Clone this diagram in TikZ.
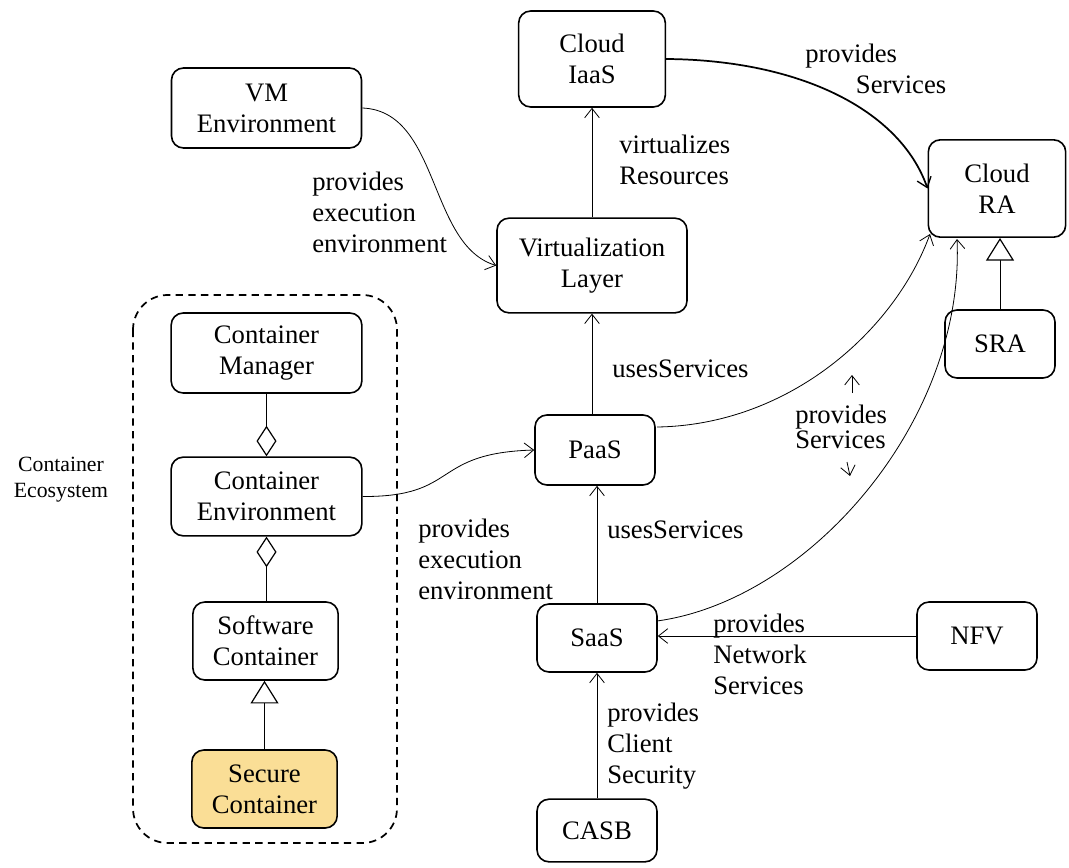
\documentclass[tikz,border=0pt]{standalone}
\usepackage{fontspec}
\setmainfont{Liberation Serif}
\usetikzlibrary{arrows.meta}
\definecolor{secfill}{RGB}{250,222,150}
\newcommand\diagfont{\fontsize{20pt}{23.25pt}\selectfont}
\begin{document}
\begin{tikzpicture}[x=0.75pt,y=-0.75pt,font=\diagfont,
  box/.style={draw,line width=1.2pt,rounded corners=9pt,align=center,inner sep=0pt},
  lbl/.style={anchor=north west,inner sep=0pt,align=left},
  conn/.style={line width=0.6pt},
  tip/.style={-{Straight Barb[length=7pt,width=11pt,line width=0.6pt]}},
  gen/.style={-{Triangle[open,length=17pt,width=21pt,line width=0.9pt,fill=white]}},
  agg/.style={-{Diamond[open,length=23pt,width=15pt,line width=0.9pt,fill=white]}},
  aggs/.style={{Diamond[open,length=23pt,width=15pt,line width=0.9pt,fill=white]}-},
  ecobox/.style={draw,dashed,line width=1.3pt,dash pattern=on 5.5pt off 4pt,rounded corners=26pt}
]
\path[use as bounding box] (0,0) rectangle (1069,867);

% container ecosystem frame
\draw[ecobox] (133,295) rectangle (397,843);
\node[anchor=north,inner sep=0pt,align=center,font=\fontsize{16.3pt}{19.5pt}\selectfont] (ceco) at (61,457) {Container\\Ecosystem};

% nodes
\node[box,minimum width=110pt,minimum height=72pt] (iaas) at (592,59) {Cloud\\IaaS};
\node[box,minimum width=142.5pt,minimum height=60pt] (vm) at (266.5,108) {VM\\Environment};
\node[box,minimum width=142.5pt,minimum height=71pt] (virt) at (592,265.5) {Virtualization\\Layer};
\node[box,minimum width=103pt,minimum height=73pt] (ra) at (997,188.5) {Cloud\\RA};
\node[box,minimum width=82.5pt,minimum height=51pt] (sra) at (1000,344) {SRA};
\node[box,minimum width=143pt,minimum height=60pt] (cm) at (266.5,353) {Container\\Manager};
\node[box,minimum width=143pt,minimum height=59pt] (env) at (266.5,496.5) {Container\\Environment};
\node[box,minimum width=109pt,minimum height=58.5pt] (sc) at (265.5,641) {Software\\Container};
\node[box,fill=secfill,minimum width=109pt,minimum height=58.5pt] (sec) at (264.5,789) {Secure\\Container};
\node[box,minimum width=90pt,minimum height=52.5pt] (paas) at (595,450) {PaaS};
\node[box,minimum width=90pt,minimum height=51pt] (saas) at (597,638) {SaaS};
\node[box,minimum width=90pt,minimum height=51pt] (nfv) at (977,636) {NFV};
\node[box,minimum width=90pt,minimum height=47pt] (casb) at (597,830.5) {CASB};

% labels
\node[lbl] (l1) at (805,44) {provides\\\hspace*{38pt}Services};
\node[lbl] (l2) at (619,135) {virtualizes\\Resources};
\node[lbl] (l3) at (312,172) {provides\\execution\\environment};
\node[lbl] (l4) at (612,360) {usesServices};
\node[lbl,font=\fontsize{20pt}{18.75pt}\selectfont] (l5) at (795,405) {provides\\Services};
\node[lbl] (l6) at (418,519) {provides\\execution\\environment};
\node[lbl] (l7) at (607,521) {usesServices};
\node[lbl] (l8) at (713,614) {provides\\Network\\Services};
\node[lbl] (l9) at (607,703) {provides\\Client\\Security};

% connectors
\draw[line width=1.3pt,-{Straight Barb[length=7pt,width=11pt,line width=1pt]}]
  (iaas.east) .. controls (800,60) and (900,110) .. (ra.west);
\draw[conn,tip] (vm.east) .. controls (440,111) and (428,245) .. (virt.west);
\draw[conn,tip] (virt.north) -- (virt.north |- iaas.south);
\draw[conn,tip] (virt.south |- paas.north) -- (virt.south);
\draw[conn,tip] (saas.north) -- (saas.north |- paas.south);
\draw[conn,tip] (casb.north) -- (saas.south);
\draw[conn,tip] (nfv.west) -- (nfv.west -| saas.east);
\draw[conn,tip] (env.east) .. controls (460,497) and (430,453) .. (paas.west);
\coordinate (paasout) at (657,427);
\coordinate (raA) at (930,234);
\draw[conn,tip] (paasout) .. controls (790,425) and (895,330) .. (raA);
\coordinate (saasout) at (657,621);
\coordinate (raB) at (957,239);
\draw[conn,tip] (saasout) .. controls (810,600) and (965,420) .. (raB);

% small stray arrows
\coordinate (ua1) at (852,393);
\coordinate (ua2) at (852,375);
\draw[conn,tip] (ua1) -- (ua2);
\coordinate (da1) at (847,462);
\coordinate (da2) at (850,476);
\draw[conn,tip] (da1) -- (da2);

% UML relations
\draw[conn,gen] (sra.north) -- (sra.north |- ra.south);
\draw[conn,agg] (cm.south) -- (env.north);
\draw[conn,aggs] (env.south) -- (env.south |- sc.north);
\draw[conn,gen] (sec.north) -- (sec.north |- sc.south);
\end{tikzpicture}
\end{document}
